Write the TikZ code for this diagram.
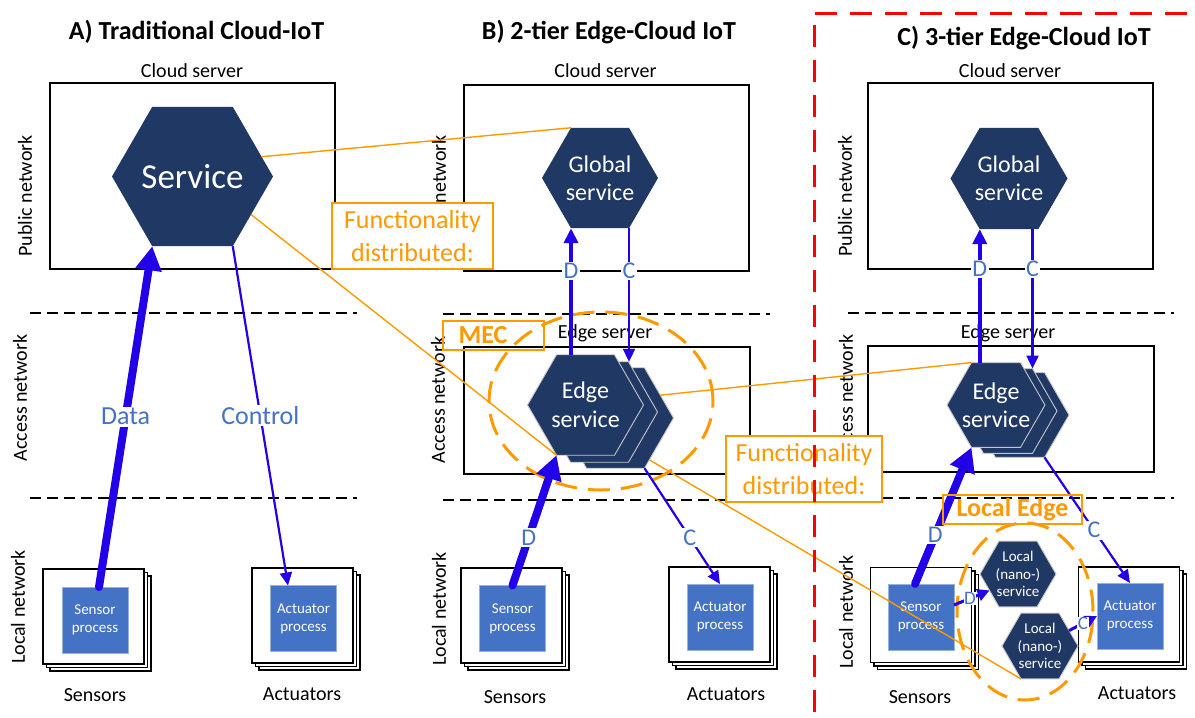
\documentclass[tikz,border=0pt]{standalone}
\usepackage{fontspec}
\setmainfont{Carlito}
\usetikzlibrary{shapes.geometric,arrows.meta}
\definecolor{navy}{HTML}{203864}
\definecolor{procblue}{HTML}{4472C4}
\definecolor{arrblue}{HTML}{2200E8}
\definecolor{orng}{HTML}{FF9900}
\definecolor{dashred}{HTML}{FF0000}
\newcommand\fsz[2]{\fontsize{#1}{#2}\selectfont}
\newcommand\mystack[3]{%
  \node[stk] at (#2+7,#3+7) {};
  \node[stk] at (#2+3.5,#3+3.5) {};
  \node[stk] (#1) at (#2,#3) {};}
\begin{document}
\begin{tikzpicture}[x=1pt,y=-1pt,
 title/.style={font=\bfseries\fsz{26}{30}},
 plain/.style={font=\fsz{20}{24}},
 srv/.style={draw=black,line width=1.4pt,inner sep=0pt,outer sep=0pt},
 sepline/.style={line width=1.2pt,dash pattern=on 11pt off 6pt},
 stk/.style={draw=black,fill=white,line width=1.2pt,minimum width=101pt,minimum height=95pt,inner sep=0pt,outer sep=0pt},
 proc/.style={fill=procblue,draw=procblue!55!white,line width=0.8pt,minimum width=66pt,minimum height=66pt,inner sep=0pt,outer sep=0pt,text=white,align=center,font=\fsz{15}{18}},
 hex/.style={regular polygon,regular polygon sides=6,fill=navy,inner sep=0pt,outer sep=0pt},
 hexo/.style={hex,draw=gray!45,line width=0.9pt},
 htxt/.style={text=white,align=center},
 oline/.style={draw=orng,line width=1.4pt},
 oell/.style={draw=orng,line width=3pt,dash pattern=on 22pt off 11pt},
 obox/.style={draw=orng,line width=1.3pt,inner sep=0pt},
 bigarr/.style={draw=arrblue,line width=8pt,line cap=round,-{Triangle[length=24pt,width=25pt]}},
 midarr/.style={draw=arrblue,line width=4pt,-{Triangle[length=15pt,width=14pt]}},
 thinarr/.style={draw=arrblue,line width=2.2pt,-{Triangle[length=13pt,width=12pt]}},
 nanoarr/.style={draw=arrblue,line width=3pt,-{Triangle[length=12pt,width=12pt]}},
 lbl/.style={fill=white,text=procblue,inner sep=1.5pt,font=\fsz{24}{28}},
 ]
\useasboundingbox (0,0) rectangle (1195,718);

% titles
\node[title] (tA) at (196.5,32) {A) Traditional Cloud-IoT};
\node[title] (tB) at (609,32) {B) 2-tier Edge-Cloud IoT};
\node[title] (tC) at (1024,38) {C) 3-tier Edge-Cloud IoT};

% server labels
\node[plain] (lcA) at (192,71) {Cloud server};
\node[plain] (lcB) at (605.5,71) {Cloud server};
\node[plain] (lcC) at (1010,71) {Cloud server};
\node[plain] (leB) at (605,333) {Edge server};
\node[plain] (leC) at (1008,333) {Edge server};

% server boxes
\node[srv,minimum width=285pt,minimum height=186pt] (cA) at (192.5,176) {};
\node[srv,minimum width=285pt,minimum height=186pt] (cB) at (606.5,178) {};
\node[srv,minimum width=285pt,minimum height=186pt] (cC) at (1010.5,176) {};
\node[srv,minimum width=286pt,minimum height=127pt] (eB) at (607,410.5) {};
\node[srv,minimum width=286pt,minimum height=126pt] (eC) at (1011,409) {};

% separators
\draw[sepline] (30,313) -- (357,313);
\draw[sepline] (30,498) -- (357,498);
\draw[sepline] (443,314) -- (770,314);
\draw[sepline] (443,500) -- (770,500);
\draw[sepline] (848,313) -- (1174,313);
\draw[sepline] (848,498) -- (1174,498);

% network labels
\node[plain,rotate=90] (pnA) at (25,196) {Public network};
\node[plain,rotate=90] (anA) at (20,398) {Access network};
\node[plain,rotate=90] (lnA) at (18,607) {Local network};
\node[plain,rotate=90] (pnB) at (439,196) {Public network};
\node[plain,rotate=90] (anB) at (438,400) {Access network};
\node[plain,rotate=90] (lnB) at (439,609) {Local network};
\node[plain,rotate=90] (pnC) at (845,196) {Public network};
\node[plain,rotate=90] (anC) at (846,398) {Access network};
\node[plain,rotate=90] (lnC) at (846,612) {Local network};

% device stacks
\mystack{sA}{93.5}{616.5}
\mystack{aA}{302.5}{615.5}
\mystack{sB}{511.5}{615.5}
\mystack{aB}{719.5}{614.5}
\mystack{sC}{921}{615}
\mystack{aC}{1129}{614.5}
\node[proc] (pA) at (95,620) {Sensor\\process};
\node[proc] (qA) at (303.5,618.5) {Actuator\\process};
\node[proc] (pB) at (512.5,618.5) {Sensor\\process};
\node[proc] (qB) at (720,617) {Actuator\\process};
\node[proc] (pC) at (921,617) {Sensor\\process};
\node[proc] (qC) at (1130,616) {Actuator\\process};

\node[plain] (snA) at (95,695) {Sensors};
\node[plain] (acA) at (302,694) {Actuators};
\node[plain] (snB) at (515,697) {Sensors};
\node[plain] (acB) at (726,694) {Actuators};
\node[plain] (snC) at (920,697) {Sensors};
\node[plain] (acC) at (1137,693) {Actuators};

% ellipses
\node[oell,ellipse,minimum width=224pt,minimum height=178pt,inner sep=0pt] (mec) at (601,401) {};
\node[oell,ellipse,minimum width=136pt,minimum height=177pt,inner sep=0pt] (led) at (1025,611.5) {};

% hexagons
\node[hex,minimum size=161pt] (svc) at (192.5,176.5) {};
\node[htxt,font=\fsz{35}{40}] at (svc) {Service};
\node[hex,minimum size=116pt] (gB) at (600,178) {};
\node[htxt,font=\fsz{24}{28}] at (gB) {Global\\service};
\node[hex,minimum size=117pt] (gC) at (1009,178.5) {};
\node[htxt,font=\fsz{24}{28}] at (gC) {Global\\service};

\node[hexo,minimum size=116pt] (e3B) at (615.5,418) {};
\node[hexo,minimum size=116pt] (e2B) at (599.5,412) {};
\node[hexo,minimum size=116pt] (e1B) at (585.5,405) {};
\node[htxt,font=\fsz{24}{29}] at (e1B) {Edge\\service};

\node[hexo,minimum size=98pt] (e3C) at (1020,415) {};
\node[hexo,minimum size=98pt] (e2C) at (1008,411) {};
\node[hexo,minimum size=98pt] (e1C) at (996,405) {};
\node[htxt,font=\fsz{24}{28}] at (e1C) {Edge\\service};

\node[hexo,minimum size=76pt] (n1) at (1018,574) {};
\node[htxt,font=\fsz{15}{17.5}] at (n1) {Local\\(nano-)\\service};
\node[hexo,minimum size=76pt] (n2) at (1040,646) {};
\node[htxt,font=\fsz{15}{17.5}] at (n2) {Local\\(nano-)\\service};

% orange relation lines
\draw[oline] (svc.16) -- (gB.120);
\draw[oline] (svc.-33) -- (e1B.240);
\draw[oline] (e3B.-51) -- (n2.240);
\draw[oline] (e3B.27) -- (e1C.120);

% panel A arrows
\draw[bigarr] ([xshift=4pt]pA.north) -- node[lbl,pos=0.5,font=\fsz{26}{30}] {Data} (svc.240);
\draw[thinarr] (svc.300) -- node[lbl,pos=0.5,font=\fsz{26}{30}] {Control} ([xshift=-15.5pt]qA.north);

% panel B arrows
\draw[midarr] (gB.240 |- e1B.north) -- (gB.240);
\draw[thinarr] (gB.300) -- (gB.300 |- e2B.north);
\node[lbl] (dB) at (gB.240 |- cB.south) {D};
\node[lbl] (cBl) at (gB.300 |- cB.south) {C};
\draw[bigarr] (pB.north) -- node[lbl,pos=0.37] {D} (e1B.240);
\draw[thinarr] (e3B.300) -- node[lbl,pos=0.6] {C} (qB.north);

% panel C arrows
\draw[midarr] (gC.240 |- e1C.north) -- (gC.240);
\draw[thinarr] (e2C.60 |- gC.south) -- (e2C.60);
\node[lbl] (dC) at (gC.240 |- cC.south) {D};
\node[lbl] (cCl) at (e2C.60 |- cC.south) {C};
\draw[bigarr] ([xshift=-6pt]pC.north) -- node[lbl,pos=0.36] {D} (e1C.240);
\draw[thinarr] (e3C.300) -- node[lbl,pos=0.58] {C} (qC.north);
\draw[nanoarr] ([yshift=12pt]pC.east) -- node[lbl,pos=0.45,font=\fsz{19}{22},inner sep=0.5pt] {D} (n1.210);
\draw[nanoarr] (n2.28) -- node[lbl,pos=0.5,font=\fsz{19}{22},inner sep=0.5pt] {C} (qC.west);

% orange boxes
\node[obox,fill=white,minimum width=161pt,minimum height=66pt] (f1) at (412.5,236) {};
\node[text=orng,align=center,font=\fsz{26}{33}] at (f1) {Functionality\\distributed:};
\node[obox,fill=white,minimum width=156pt,minimum height=66pt] (f2) at (804,469) {};
\node[text=orng,align=center,font=\fsz{26}{33}] at (f2) {Functionality\\distributed:};
\node[obox,minimum width=101pt,minimum height=29pt] (mecb) at (493.5,335.5) {};
\node[text=orng,font=\bfseries\fsz{26}{30}] at (483,335) {MEC};
\node[obox,minimum width=139pt,minimum height=29pt] (leb) at (1012.5,509.5) {};
\node[text=orng,font=\bfseries\fsz{26}{30}] at (leb) {Local Edge};

% red frame
\draw[dashred,line width=3pt,dash pattern=on 22pt off 13pt] (815,13) -- (1195,13);
\draw[dashred,line width=3pt,dash pattern=on 22pt off 13pt] (814,25) -- (814,718);
\end{tikzpicture}
\end{document}
